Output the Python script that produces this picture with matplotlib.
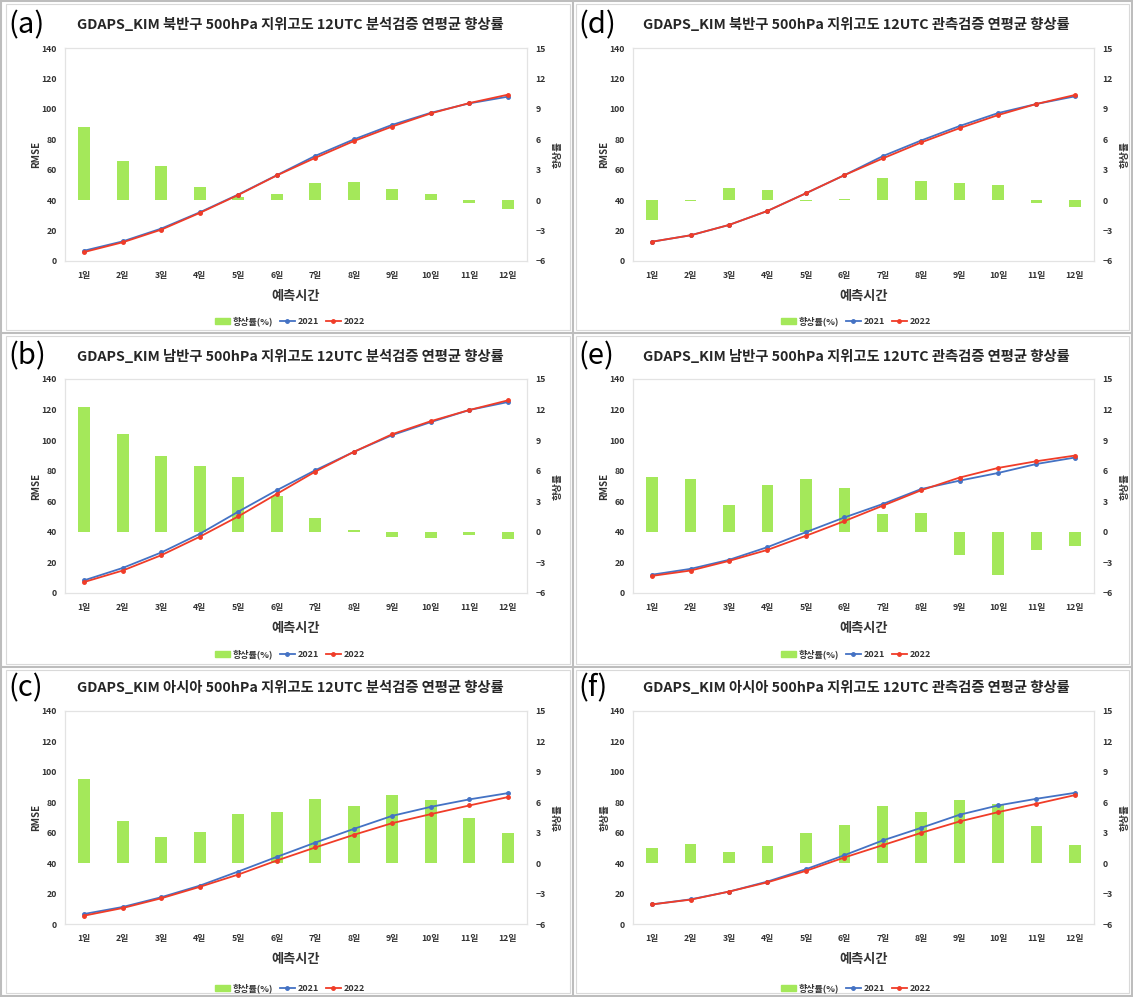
import matplotlib
matplotlib.use('Agg')
import matplotlib.pyplot as plt
from matplotlib.lines import Line2D
from matplotlib.patches import Rectangle, Patch
import numpy as np

plt.rcParams['font.family'] = ['Noto Sans CJK KR', 'DejaVu Sans']

days = ['1일', '2일', '3일', '4일', '5일', '6일', '7일', '8일', '9일', '10일', '11일', '12일']

# (a) 북반구 분석검증
rate_a = [7.23, 3.82, 3.32, 1.28, 0.33, 0.56, 1.65, 1.78, 1.12, 0.63, -0.33, -0.86]
rmse21_a = [6.8, 12.9, 21.3, 32.0, 43.7, 56.4, 69.1, 79.9, 89.5, 97.4, 103.6, 108.0]
rmse22_a = [5.9, 12.3, 20.6, 31.6, 43.4, 56.2, 67.8, 78.8, 88.4, 97.0, 103.8, 109.3]
# (d) 북반구 관측검증
rate_d = [-1.91, -0.08, 1.15, 1.02, -0.05, 0.13, 2.14, 1.84, 1.65, 1.48, -0.26, -0.63]
rmse21_d = [12.7, 16.9, 23.7, 32.9, 44.5, 56.4, 68.9, 79.2, 88.7, 97.2, 103.2, 108.2]
rmse22_d = [12.7, 16.9, 23.7, 32.9, 44.5, 56.4, 67.4, 77.9, 87.3, 95.9, 103.2, 109.1]
# (b) 남반구 분석검증
rate_b = [12.30, 9.61, 7.48, 6.43, 5.35, 3.48, 1.38, 0.16, -0.52, -0.56, -0.30, -0.75]
rmse21_b = [8.3, 16.4, 26.5, 38.7, 53.2, 67.2, 80.3, 92.3, 103.3, 111.8, 119.7, 124.9]
rmse22_b = [7.2, 14.7, 24.7, 36.8, 50.1, 64.8, 79.4, 92.3, 103.9, 112.4, 119.7, 126.0]
# (e) 남반구 관측검증
rate_e = [5.35, 5.18, 2.66, 4.59, 5.22, 4.30, 1.77, 1.84, -2.30, -4.23, -1.74, -1.41]
rmse21_e = [12.0, 15.8, 21.7, 30.0, 39.8, 49.4, 58.2, 68.0, 73.5, 78.5, 84.4, 88.6]
rmse22_e = [11.2, 14.7, 21.0, 28.2, 37.4, 47.0, 57.1, 67.2, 75.5, 81.8, 86.2, 89.9]
# (c) 아시아 분석검증
rate_c = [8.30, 4.18, 2.60, 3.09, 4.84, 5.00, 6.32, 5.60, 6.71, 6.22, 4.48, 2.93]
rmse21_c = [6.6, 11.2, 17.6, 25.2, 34.5, 44.1, 53.5, 62.5, 71.1, 77.0, 81.9, 86.0]
rmse22_c = [5.5, 10.5, 16.9, 24.4, 32.5, 41.7, 50.3, 58.6, 66.3, 72.2, 77.9, 83.4]
# (f) 아시아 관측검증
rate_f = [1.51, 1.91, 1.05, 1.65, 2.93, 3.72, 5.63, 5.07, 6.25, 5.86, 3.65, 1.81]
rmse21_f = [12.9, 16.2, 21.3, 27.9, 36.0, 45.2, 54.9, 63.2, 71.8, 77.9, 82.3, 86.2]
rmse22_f = [12.9, 16.0, 21.3, 27.4, 34.9, 43.7, 51.8, 59.9, 67.4, 73.5, 79.0, 84.7]

W, H = 1133, 997
fig = plt.figure(figsize=(W / 100, H / 100), dpi=100)


def fx(x):
    return x / W


def fy(y):
    return 1 - y / H


# table grid
grid_c = '#BDBDBD'
fig.add_artist(Rectangle((fx(1), fy(996)), fx(1131), 995 / H, fill=False,
                         edgecolor=grid_c, lw=1.5, transform=fig.transFigure))
fig.add_artist(Line2D([fx(573), fx(573)], [fy(1), fy(996)], color=grid_c, lw=1.5))
for yy in [333, 667]:
    fig.add_artist(Line2D([fx(1), fx(1132)], [fy(yy), fy(yy)], color=grid_c, lw=1.5))

cells_x = [(6, 570), (576, 1129)]
cells_y = [(4, 330), (336, 664), (670, 993)]
for x0, x1 in cells_x:
    for y0, y1 in cells_y:
        fig.add_artist(Rectangle((fx(x0), fy(y1)), fx(x1 - x0), (y1 - y0) / H, fill=False,
                                 edgecolor='#D9D9D9', lw=0.8, transform=fig.transFigure))

panels = [
    ('(a)', '북반구', '분석검증', rate_a, rmse21_a, rmse22_a, 'RMSE', 0, 0),
    ('(b)', '남반구', '분석검증', rate_b, rmse21_b, rmse22_b, 'RMSE', 0, 1),
    ('(c)', '아시아', '분석검증', rate_c, rmse21_c, rmse22_c, 'RMSE', 0, 2),
    ('(d)', '북반구', '관측검증', rate_d, rmse21_d, rmse22_d, 'RMSE', 1, 0),
    ('(e)', '남반구', '관측검증', rate_e, rmse21_e, rmse22_e, 'RMSE', 1, 1),
    ('(f)', '아시아', '관측검증', rate_f, rmse21_f, rmse22_f, '향상률', 1, 2),
]

ax_x = [(65, 527), (633, 1094)]
title_x = [290, 856]
label_x = [8, 578]
ax_y = [(48, 261), (379, 593), (711, 924)]
title_y = [25, 357, 688]
label_y = [25, 356, 688]
offset_y = [0, 333, 667]

bar_c = '#A4E85A'
blue = '#4472C4'
red = '#F03C28'
x = np.arange(len(days))

for lab, region, kind, rate, r21, r22, ylab, col, row in panels:
    x0, x1 = ax_x[col]
    y0, y1 = ax_y[row]
    ax = fig.add_axes([fx(x0), fy(y1), (x1 - x0) / W, (y1 - y0) / H])
    ax2 = ax.twinx()
    ax2.bar(x, rate, width=0.3, color=bar_c, zorder=1)
    ax2.set_ylim(-6, 15)
    ax2.set_yticks(range(-6, 16, 3))
    ax.plot(x, r21, color=blue, lw=1.3, marker='o', ms=2.5, label='2021')
    ax.plot(x, r22, color=red, lw=1.3, marker='o', ms=2.5, label='2022')
    ax.set_ylim(0, 140)
    ax.set_yticks(range(0, 141, 20))
    ax.set_xlim(-0.5, len(days) - 0.5)
    ax.set_xticks(x)
    ax.set_xticklabels(days, fontsize=7, fontweight='bold', color='#333333')
    ax.set_zorder(ax2.get_zorder() + 1)
    ax.patch.set_visible(False)
    for a in (ax, ax2):
        for s in a.spines.values():
            s.set_color('#E3E3E3')
            s.set_linewidth(0.8)
        a.tick_params(length=0, labelsize=6.3, colors='#333333', pad=6)
    for t in ax.get_yticklabels() + ax2.get_yticklabels():
        t.set_fontweight('bold')
    ax.tick_params(axis='x', pad=7)
    ax.set_ylabel(ylab, fontsize=7, fontweight='bold', color='#333333', labelpad=0)
    ax2.set_ylabel('향상률', fontsize=7, fontweight='bold', color='#333333', rotation=90, labelpad=5)
    ax.set_xlabel('예측시간', fontsize=9.5, fontweight='bold', color='#333333', labelpad=7)

    cx = fx(title_x[col])
    fig.text(cx, fy(title_y[row]), f'GDAPS_KIM {region} 500hPa 지위고도 12UTC {kind} 연평균 향상률',
             ha='center', va='center', fontsize=10.3, fontweight='bold', color='#262626')
    fig.text(fx(label_x[col]), fy(label_y[row]), lab, ha='left', va='center', fontsize=21,
             color='#000000')

    handles = [Patch(color=bar_c), Line2D([], [], color=blue, lw=1.3, marker='o', ms=2.5),
               Line2D([], [], color=red, lw=1.3, marker='o', ms=2.5)]
    leg = ax.legend(handles, ['향상률(%)', '2021', '2022'], loc='center', ncol=3,
                    bbox_to_anchor=(cx, fy(offset_y[row] + 321)), bbox_transform=fig.transFigure,
                    frameon=False, fontsize=6.5, handlelength=1.7, handleheight=0.6,
                    columnspacing=0.7, handletextpad=0.3)
    for t in leg.get_texts():
        t.set_fontweight('bold')
        t.set_color('#333333')

fig.savefig('out.png', dpi=100)
